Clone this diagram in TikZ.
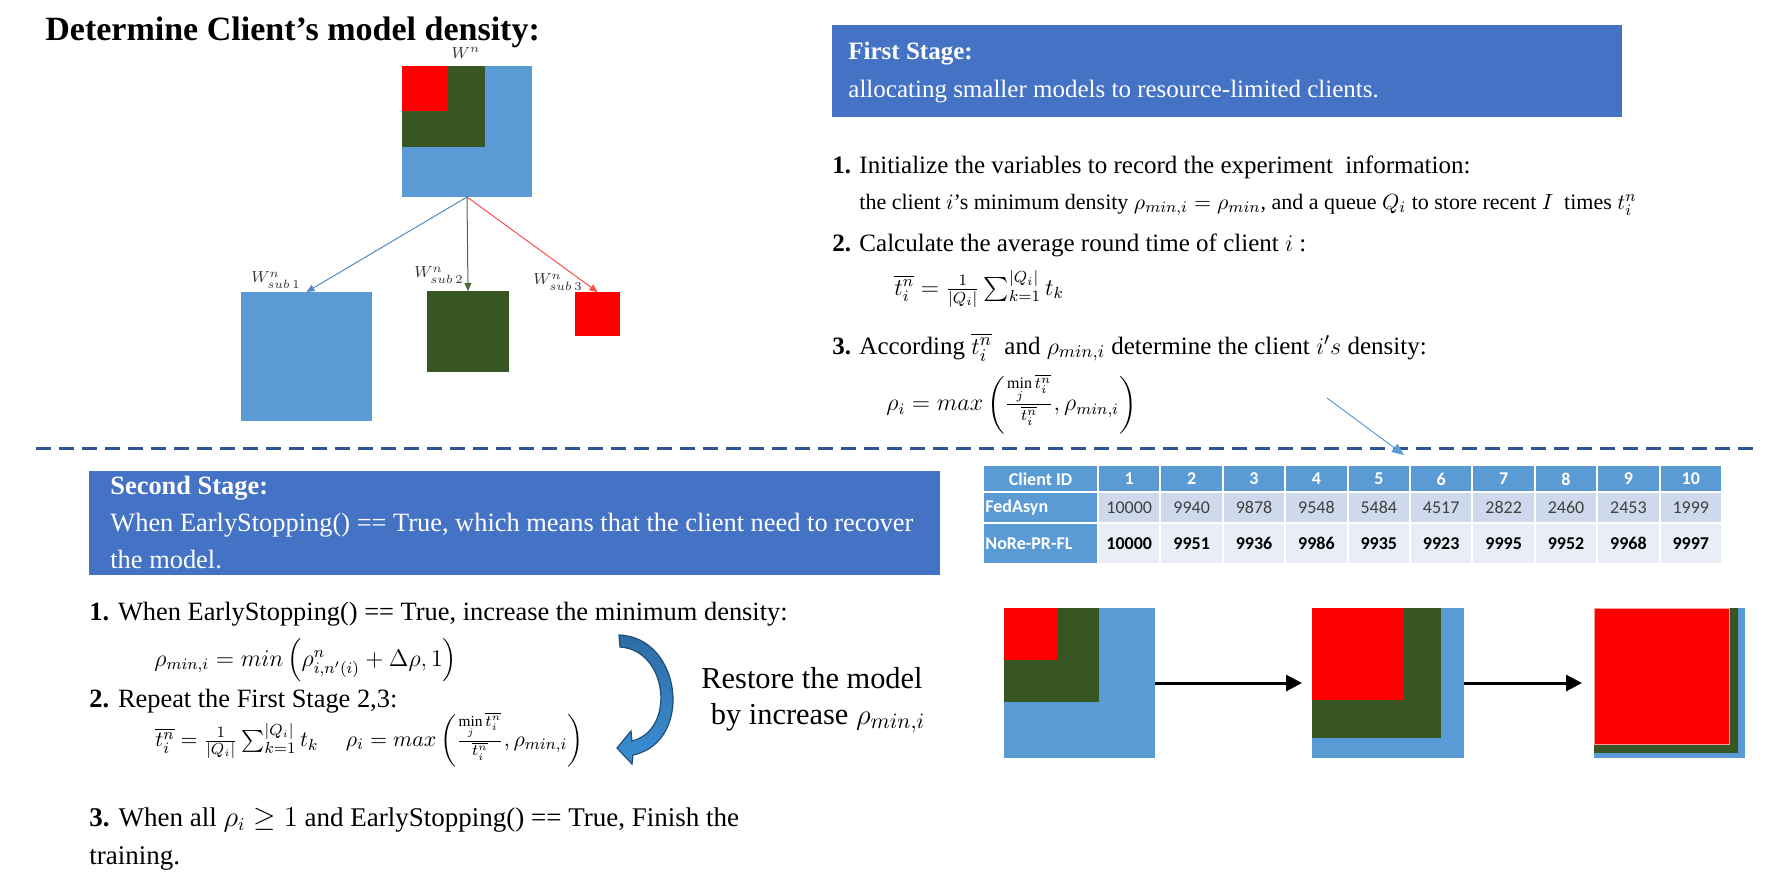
\documentclass[tikz,border=0pt]{standalone}
\usepackage{fontspec}
\usepackage{amsmath}
\setmainfont{Liberation Serif}
\newfontfamily\tabfont{Carlito}
\usetikzlibrary{arrows.meta,fit}
\definecolor{mblue}{HTML}{5B9BD5}
\definecolor{mgreen}{HTML}{375623}
\definecolor{mred}{HTML}{FF0000}
\definecolor{boxblue}{HTML}{4472C4}
\definecolor{dashblue}{HTML}{2F5597}
\definecolor{rowa}{HTML}{CFD9EC}
\definecolor{rowb}{HTML}{E9EDF6}
\definecolor{arrgreen}{HTML}{4E6B3A}
\definecolor{arrred}{HTML}{FF5050}
\definecolor{curvdark}{HTML}{1F4E79}
\definecolor{curvtop}{HTML}{2E6DA4}
\definecolor{curvbot}{HTML}{3A8FD6}
\begin{document}
\begin{tikzpicture}[x=0.5pt,y=-0.5pt,
  sq/.style={inner sep=0pt,outer sep=0pt,draw=none},
  txt/.style={anchor=base west,inner sep=0pt,font=\fontsize{12.5}{14}\selectfont},
  btxt/.style={anchor=base west,inner sep=0pt,font=\fontsize{13.2}{15}\selectfont},
  small/.style={anchor=base west,inner sep=0pt,font=\fontsize{11}{12}\selectfont},
  wlab/.style={inner sep=0pt,font=\fontsize{8}{9}\selectfont,text=black!80},
  thin/.style={line width=0.5pt,-{Triangle[length=4pt,width=3.5pt]}},
  bigarr/.style={line width=1.5pt,-{Triangle[length=8pt,width=8pt]}},
  hdr/.style={inner sep=0pt,text=white,font=\tabfont\bfseries\fontsize{9}{10}\selectfont},
  rowlab/.style={inner sep=0pt,anchor=west,text=white,font=\tabfont\bfseries\fontsize{9}{10}\selectfont},
  dat/.style={inner sep=0pt,text=black!75,font=\tabfont\fontsize{9}{10}\selectfont},
  datb/.style={inner sep=0pt,text=black,font=\tabfont\bfseries\fontsize{9}{10}\selectfont}]
\useasboundingbox (0,0) rectangle (1775,889);
% title
\node[anchor=base west,inner sep=0pt,font=\bfseries\fontsize{17}{19}\selectfont] (title) at (45,40) {Determine Client’s model density:};
% top model
\node[sq,fill=mblue,fit={(402,66) (532,197)}] (top) {};
\node[sq,fill=mgreen,fit={(402,66) (485,147)}] (topg) {};
\node[sq,fill=mred,fit={(402,66) (448,111)}] (topr) {};
\node[wlab] (wn) at (466,53) {$W^{n}$};
% sub models
\node[sq,fill=mblue,fit={(241,292) (372,421)}] (s1) {};
\node[sq,fill=mgreen,fit={(427,291) (509,372)}] (s2) {};
\node[sq,fill=mred,fit={(575,292) (620,336)}] (s3) {};
\node[wlab] (w1) at (276,280) {$W^{n}_{sub\,1}$};
\node[wlab] (w2) at (439,275) {$W^{n}_{sub\,2}$};
\node[wlab] (w3) at (558,282) {$W^{n}_{sub\,3}$};
\draw[thin,mblue!90!black] (top.south) -- (s1.north);
\draw[thin,arrgreen] (top.south) -- (s2.north);
\draw[thin,arrred] (top.south) -- (s3.north);
% first stage box
\node[sq,fill=boxblue,fit={(832,25) (1622,117)}] (fsbox) {};
\node[txt,text=white] (fs1) at (848,59) {\textbf{First Stage:}};
\node[txt,text=white] (fs2) at (848,97) {allocating smaller models to resource-limited clients.};
% steps
\node[txt] (st1) at (832,173) {\textbf{1.} Initialize the variables to record the experiment\ \ information:};
\node[small] (st1b) at (859,209) {the client $i$’s minimum density $\rho_{min,i}=\rho_{min}$, and a queue $Q_i$ to store recent $I$\ \ times $t_i^n$};
\node[txt] (st2) at (832,251) {\textbf{2.} Calculate the average round time of client $i$ :};
\node[anchor=west,inner sep=0pt,font=\fontsize{12}{14}\selectfont] (f1) at (894,289) {$\overline{t_i^n}=\frac{1}{|Q_i|}\sum_{k=1}^{|Q_i|}t_k$};
\node[txt] (st3) at (832,354) {\textbf{3.} According $\overline{t_i^n}$\ \ and $\rho_{min,i}$ determine the client $i's$ density:};
\node[anchor=west,inner sep=0pt,font=\fontsize{12}{14}\selectfont] (f2) at (886,404) {$\rho_i=max\left(\frac{\min\limits_j\overline{t_i^n}}{\overline{t_i^n}},\rho_{min,i}\right)$};
% dashed separator
\coordinate (dl) at (36,448);
\coordinate (dr) at (1755,448);
\draw[dashblue,line width=1.5pt,dash pattern=on 7.5pt off 4pt] (dl) -- (dr);
% thin pointer arrow
\coordinate (pa) at (1327,398);
\coordinate (pb) at (1404,455);
\draw[line width=0.5pt,mblue,-{Triangle[length=6pt,width=5pt]}] (pa) -- (pb);
% second stage box
\node[sq,fill=boxblue,fit={(89,471) (940,575)}] (ssbox) {};
\node[btxt,text=white] (ss1) at (110,494) {\textbf{Second Stage:}};
\node[btxt,text=white] (ss2) at (110,531) {When EarlyStopping() == True, which means that the client need to recover};
\node[btxt,text=white] (ss3) at (110,568) {the model.};
% second stage steps
\node[btxt] (b1) at (89,620) {\textbf{1.} When EarlyStopping() == True, increase the minimum density:};
\node[anchor=west,inner sep=0pt,font=\fontsize{12}{14}\selectfont] (bf1) at (154,660) {$\rho_{min,i}=min\left(\rho^{n}_{i,n'(i)}+\Delta\rho,1\right)$};
\node[btxt] (b2) at (89,707) {\textbf{2.} Repeat the First Stage 2,3:};
\node[anchor=west,inner sep=0pt,font=\fontsize{11}{13}\selectfont] (bf2) at (155,740) {$\overline{t_i^n}=\frac{1}{|Q_i|}\sum_{k=1}^{|Q_i|}t_k\quad\ \rho_i=max\left(\frac{\min\limits_j\overline{t_i^n}}{\overline{t_i^n}},\rho_{min,i}\right)$};
\node[btxt,font=\fontsize{13.5}{15}\selectfont] (b3) at (89,826) {\textbf{3.} When all $\rho_i\geq 1$ and EarlyStopping() == True, Finish the};
\node[btxt,font=\fontsize{13.5}{15}\selectfont] (b3b) at (89,864) {training.};
% curved arrow
\path[draw=curvdark,line width=0.6pt,top color=curvtop,bottom color=curvbot]
  (619,635) .. controls (682,637) and (694,742) .. (633,755)
  -- (632,764) -- (617,748) -- (631,731) -- (632,741)
  .. controls (676,730) and (668,650) .. (620,647) -- cycle;
\node[anchor=base,inner sep=0pt,font=\fontsize{15.2}{17}\selectfont] (rs1) at (812,688) {Restore the model};
\node[anchor=base,inner sep=0pt,font=\fontsize{15.2}{17}\selectfont] (rs2) at (818,724) {by increase $\rho_{min,i}$};
% table
\fill[mblue] (984,466) rectangle (1097,491);
\fill[mblue] (984,493) rectangle (1097,522);
\fill[mblue] (984,524) rectangle (1097,563);
\node[hdr] (cid) at (1040.5,479) {Client ID};
\node[rowlab] (fa) at (985,507.5) {FedAsyn};
\node[rowlab] (nr) at (985,543.5) {NoRe-PR-FL};
\foreach \j/\a/\b in {1/10000/10000,2/9940/9951,3/9878/9936,4/9548/9986,5/5484/9935,6/4517/9923,7/2822/9995,8/2460/9952,9/2453/9968,10/1999/9997}{
  \pgfmathsetmacro\xa{1098+(\j-1)*62.4+1}
  \pgfmathsetmacro\xb{1098+\j*62.4-1}
  \pgfmathsetmacro\xm{1098+(\j-0.5)*62.4}
  \fill[mblue] (\xa,466) rectangle (\xb,491);
  \fill[rowa] (\xa,493) rectangle (\xb,522);
  \fill[rowb] (\xa,524) rectangle (\xb,563);
  \node[hdr] (h\j) at (\xm,479) {\j};
  \node[dat] (a\j) at (\xm,507.5) {\a};
  \node[datb] (b\j) at (\xm,543.5) {\b};
}
% bottom-right squares
\node[sq,fill=mblue,fit={(1004,608) (1155,758)}] (q1) {};
\node[sq,fill=mgreen,fit={(1004,608) (1099,702)}] (q1g) {};
\node[sq,fill=mred,fit={(1004,608) (1057,660)}] (q1r) {};
\node[sq,fill=mblue,fit={(1312,608) (1464,758)}] (q2) {};
\node[sq,fill=mgreen,fit={(1312,608) (1441,738)}] (q2g) {};
\node[sq,fill=mred,fit={(1312,608) (1404,700)}] (q2r) {};
\node[sq,fill=mblue,fit={(1594,608) (1745,758)}] (q3) {};
\node[sq,fill=mgreen,fit={(1594,608) (1738,753)}] (q3g) {};
\node[sq,fill=mred,draw=red!40,line width=0.4pt,fit={(1594,608) (1729,744)}] (q3r) {};
\draw[bigarr] (q1.east) -- ([xshift=-5pt]q2.west);
\draw[bigarr] (q2.east) -- ([xshift=-6pt]q3.west);
\end{tikzpicture}
\end{document}
